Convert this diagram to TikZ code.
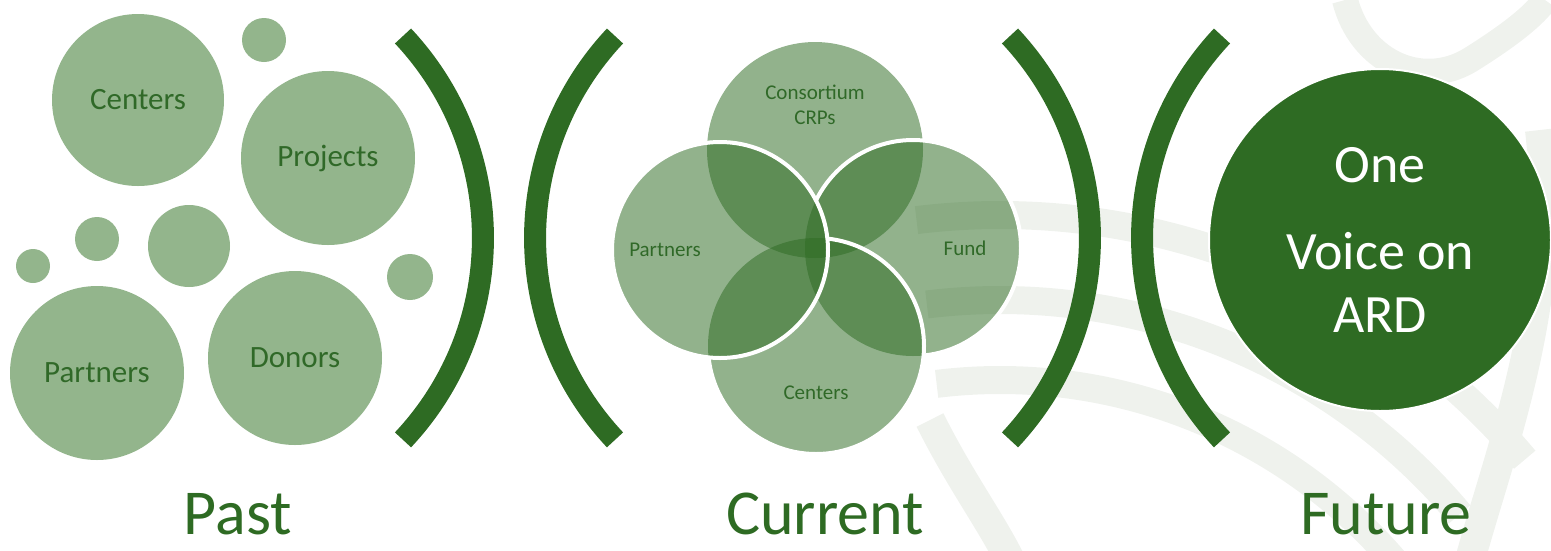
\documentclass[tikz,border=0pt]{standalone}
\usepackage{fontspec}
\setmainfont{Carlito}
\usetikzlibrary{calc}

\definecolor{leafdark}{RGB}{46,107,35}
\definecolor{leafpale}{RGB}{147,181,140}
\definecolor{leaftext}{RGB}{48,105,40}
\definecolor{wmark}{RGB}{239,242,237}

\begin{document}
\begin{tikzpicture}[x=1pt, y=1pt,
  blob/.style={circle, fill=leafpale, text=leaftext, inner sep=0pt,
    minimum size=#1, font=\fontsize{31}{36}\selectfont},
  blob/.default=174pt,
  venn/.style={circle, fill=leafdark, fill opacity=0.52, minimum size=216pt, inner sep=0pt},
  vtext/.style={text=leaftext, align=center, font=\fontsize{21}{25}\selectfont},
  ring/.style={draw=white, line width=4pt},
  bracket/.style={draw=leafdark, line width=22pt},
  era/.style={text=leafdark, anchor=base, inner sep=0pt, font=\fontsize{64}{70}\selectfont}]

  \useasboundingbox (0,0) rectangle (1551,-550);

  % faint leaf in the background
  \begin{scope}
    \clip (0,0) rectangle (1551,-550);
    \foreach \r in {685,600,520}
      \draw[wmark, line width=28pt] (1000,-900) ++(97:\r) arc[start angle=97, end angle=40, radius=\r];
    \draw[wmark, line width=30pt] (930,-420) .. controls (960,-480) and (990,-520) .. (1010,-560);
    \draw[wmark, line width=30pt] (1540,-130) .. controls (1560,-300) and (1500,-450) .. (1470,-560);
    \draw[wmark, line width=26pt] (1345,0) .. controls (1360,-60) and (1420,-90) .. (1470,-60)
      .. controls (1510,-35) and (1535,-15) .. (1545,0);
  \end{scope}

  % past: loose bubbles
  \node[blob=172pt] (centers) at (138,-100) {Centers};
  \node[blob] (projects) at (328,-158) {Projects};
  \node[blob] (partners) at (97,-373) {Partners};
  \node[blob] (donors) at (295,-358) {Donors};
  \node[blob=44pt] (dot1) at (264,-40) {};
  \node[blob=44pt] (dot2) at (97,-239) {};
  \node[blob=82pt] (dot3) at (189,-246) {};
  \node[blob=34pt] (dot4) at (33,-266) {};
  \node[blob=46pt] (dot5) at (410,-277) {};

  % brackets between the eras
  \draw[bracket] (403,-36) arc[start angle=43.2, end angle=-43.2, radius=295];
  \draw[bracket] (615,-36) arc[start angle=136.8, end angle=223.2, radius=295];
  \draw[bracket] (1010,-36) arc[start angle=43.2, end angle=-43.2, radius=295];
  \draw[bracket] (1222,-36) arc[start angle=136.8, end angle=223.2, radius=295];

  % current: four overlapping circles
  \node[venn] (crps) at (815,-150) {};
  \node[venn] (fund) at (913,-248) {};
  \node[venn] (vcenters) at (816,-346) {};
  \node[venn] (vpartners) at (720,-250) {};

  \draw[ring] (vpartners) circle[radius=108];
  \begin{scope}[even odd rule]
    \clip (0,0) rectangle (1551,-550) (vpartners) circle[radius=108];
    \draw[ring] (vcenters) circle[radius=108];
    \begin{scope}[even odd rule]
      \clip (0,0) rectangle (1551,-550) (vcenters) circle[radius=108];
      \draw[ring] (fund) circle[radius=108];
    \end{scope}
  \end{scope}

  \node[vtext] (crpslabel) at ($(crps)+(0,45)$) {Consortium\\CRPs};
  \node[vtext] (vpartnerslabel) at ($(vpartners)+(-55,0)$) {Partners};
  \node[vtext] (fundlabel) at ($(fund)+(52,0)$) {Fund};
  \node[vtext] (vcenterslabel) at ($(vcenters)+(0,-47)$) {Centers};

  % future: one voice
  \node[circle, fill=leafdark, draw=white, line width=2pt, minimum size=342pt,
    text=white, align=center, font=\fontsize{54}{63}\selectfont]
    (voice) at (1380,-240) {One\\[24pt]Voice on\\ARD};

  \node[era] (past) at (238,-534) {Past};
  \node[era] (current) at (825,-534) {Current};
  \node[era] (future) at (1386,-534) {Future};
\end{tikzpicture}
\end{document}
